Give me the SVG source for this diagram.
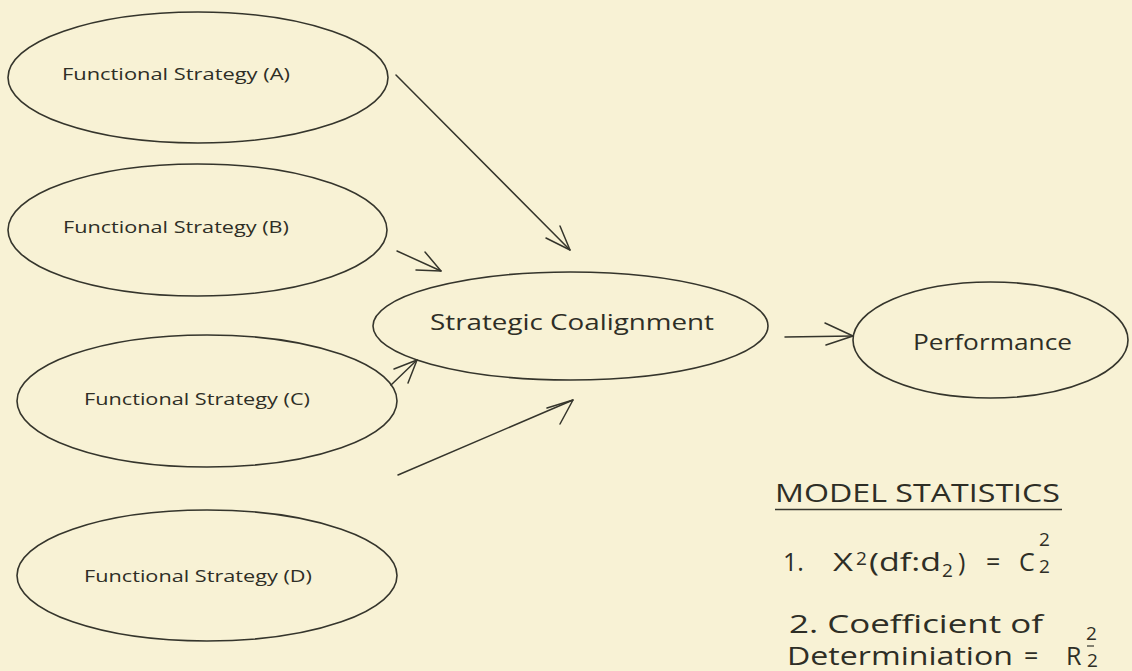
<svg xmlns="http://www.w3.org/2000/svg" width="1132" height="671" viewBox="0 0 1132 671">
<defs>
<style>
.node ellipse{fill:none;stroke:#35352c;stroke-width:1.6}
.lbl{font-family:"Open Sans","Noto Sans",sans-serif;fill:#2e2e26}
.fs{font-size:16.5px}
.conn line,.conn polyline{fill:none;stroke:#35352c;stroke-width:1.5;stroke-linecap:round;stroke-linejoin:round}
.st{font-family:"Open Sans","Noto Sans",sans-serif;fill:#2e2e26;font-size:25px}
.sm{font-family:"Open Sans","Noto Sans",sans-serif;fill:#2e2e26;font-size:19px}
</style>
</defs>
<rect width="1132" height="671" fill="#f8f2d5"/>
<g id="nodeA" class="node"><ellipse cx="198" cy="77.5" rx="190" ry="65.5"/><text class="lbl fs" x="62" y="80" textLength="228" lengthAdjust="spacingAndGlyphs">Functional Strategy (A)</text></g>
<g id="nodeB" class="node"><ellipse cx="197.5" cy="230" rx="189.5" ry="66"/><text class="lbl fs" x="63" y="233" textLength="226" lengthAdjust="spacingAndGlyphs">Functional Strategy (B)</text></g>
<g id="nodeC" class="node"><ellipse cx="207" cy="401" rx="190" ry="66"/><text class="lbl fs" x="84" y="405" textLength="226" lengthAdjust="spacingAndGlyphs">Functional Strategy (C)</text></g>
<g id="nodeD" class="node"><ellipse cx="207" cy="575.5" rx="190" ry="65.5"/><text class="lbl fs" x="84" y="582" textLength="228" lengthAdjust="spacingAndGlyphs">Functional Strategy (D)</text></g>
<g id="nodeSC" class="node"><ellipse cx="570.5" cy="326" rx="197.5" ry="54"/><text class="lbl" font-size="22" x="430" y="330" textLength="284" lengthAdjust="spacingAndGlyphs">Strategic  Coalignment</text></g>
<g id="nodeP" class="node"><ellipse cx="990.5" cy="340" rx="137.5" ry="58"/><text class="lbl" font-size="22" x="913" y="350" textLength="159" lengthAdjust="spacingAndGlyphs">Performance</text></g>
<g id="connectors" class="conn">
<line x1="396" y1="75" x2="570" y2="250"/><polyline points="546,238 570,250 560,226"/>
<line x1="397" y1="251" x2="441" y2="271"/><polyline points="416,270 441,271 425,252"/>
<line x1="391" y1="385" x2="417" y2="360"/><polyline points="394,369 417,360 408,383"/>
<line x1="398" y1="475" x2="573" y2="400"/><polyline points="547,408 573,400 560,424"/>
<line x1="785" y1="337" x2="853" y2="336"/><polyline points="825,323 853,336 826,345"/>
</g>
<g id="stats">
<text class="st" x="775" y="502" textLength="285" lengthAdjust="spacingAndGlyphs">MODEL STATISTICS</text>
<line x1="775" y1="509.5" x2="1062" y2="509.5" stroke="#35352c" stroke-width="1.5"/>
<text class="st" x="783" y="571">1.</text>
<text class="st" x="833" y="571" textLength="20" lengthAdjust="spacingAndGlyphs">X</text>
<text class="sm" x="856" y="565">2</text>
<text class="st" x="869" y="571" textLength="72" lengthAdjust="spacingAndGlyphs">(df:d</text>
<text class="sm" x="942" y="577">2</text>
<text class="st" x="958" y="571">)</text>
<text class="st" x="986" y="571">=</text>
<text class="st" x="1019" y="571">C</text>
<text class="sm" x="1039" y="546">2</text>
<text class="sm" x="1039" y="573">2</text>
<text class="st" x="789" y="633" textLength="254" lengthAdjust="spacingAndGlyphs">2.   Coefficient of</text>
<text class="st" x="787" y="665" textLength="226" lengthAdjust="spacingAndGlyphs">Determiniation</text>
<text class="st" x="1024" y="665">=</text>
<text class="st" x="1066" y="665">R</text>
<text class="sm" x="1086" y="640">2</text>
<text class="sm" font-size="16" x="1087" y="667">2</text>
<line x1="1087" y1="646" x2="1094" y2="646" stroke="#35352c" stroke-width="1.2"/>
</g>
</svg>
